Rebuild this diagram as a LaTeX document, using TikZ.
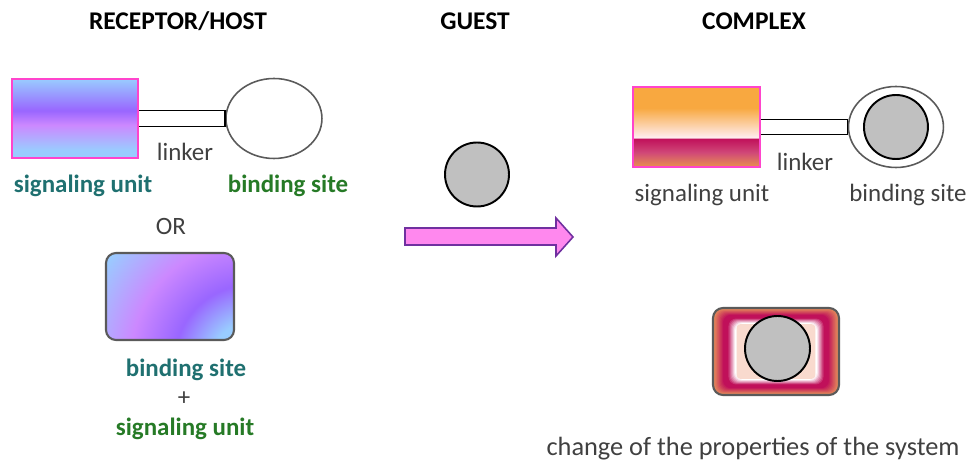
\documentclass[tikz,border=0pt]{standalone}
\usepackage{fontspec}
\setmainfont{Carlito}
\usetikzlibrary{positioning,calc,shapes.geometric}

\definecolor{hostpink}{HTML}{FF44CC}
\definecolor{skyblue}{HTML}{99CCFF}
\definecolor{violet}{HTML}{9966FF}
\definecolor{lavender}{HTML}{CC88FF}
\definecolor{cxorange}{HTML}{F8A840}
\definecolor{cxpale}{HTML}{FFEEF2}
\definecolor{cxmag}{HTML}{C0105A}
\definecolor{cxrose}{HTML}{D04878}
\definecolor{cxbottom}{HTML}{E8904E}
\definecolor{cxorg}{HTML}{E8955A}
\definecolor{cxpeach}{HTML}{F9DACE}
\definecolor{tealtext}{HTML}{1F7070}
\definecolor{greentext}{HTML}{267A26}
\definecolor{plaintext}{HTML}{404040}
\definecolor{guestgray}{HTML}{C0C0C0}
\definecolor{rimgray}{HTML}{5A5A5A}
\definecolor{arrowfill}{HTML}{FF88EE}
\definecolor{arrowline}{HTML}{7030A0}

% shadings: 25bp = bottom of the path, 75bp = top
\pgfdeclareverticalshading{signalhost}{100bp}{
  color(0bp)=(skyblue); color(30bp)=(skyblue); color(46bp)=(lavender);
  color(55bp)=(violet); color(75bp)=(skyblue); color(100bp)=(skyblue)}
\pgfdeclareverticalshading{signalcomplex}{100bp}{
  color(0bp)=(cxbottom); color(25bp)=(cxbottom); color(34bp)=(cxrose);
  color(42.8bp)=(cxmag); color(43.2bp)=(cxpale); color(62bp)=(cxorange);
  color(75bp)=(cxorange); color(100bp)=(cxorange)}
\pgfdeclareradialshading{bindhost}{\pgfpointorigin}{
  color(0bp)=(skyblue); color(5bp)=(skyblue); color(9.9bp)=(violet);
  color(15.7bp)=(lavender); color(23bp)=(skyblue); color(50bp)=(skyblue)}

\begin{document}
\begin{tikzpicture}[x=0.02cm,y=-0.02cm,
   title/.style={font=\fontsize{14.5pt}{17pt}\selectfont\bfseries,anchor=base},
   txt/.style={font=\fontsize{14.2pt}{17pt}\selectfont,text=plaintext,anchor=base,inner sep=0pt},
   tealtxt/.style={txt,font=\fontsize{14.2pt}{17pt}\selectfont\bfseries,text=tealtext},
   greentxt/.style={txt,font=\fontsize{14.2pt}{17pt}\selectfont\bfseries,text=greentext},
   sigbox/.style={draw=hostpink,line width=1.1pt,shade,minimum width=2.53cm,minimum height=1.59cm,inner sep=0pt},
   sitering/.style={ellipse,draw=rimgray,line width=0.9pt,inner sep=0pt},
   guestball/.style={circle,draw=black,line width=1.1pt,fill=guestgray,minimum size=1.28cm,inner sep=0pt},
   linkerbar/.style={draw=black,line width=0.9pt},
   roundbox/.style={draw=rimgray,line width=1.2pt,rounded corners=0.2cm,inner sep=0pt}]
  \useasboundingbox (0,0) rectangle (967,465);

  % titles
  \node[title] (tHost) at (178,30) {RECEPTOR/HOST};
  \node[title] (tGuest) at (475,30) {GUEST};
  \node[title] (tCplx) at (754,30) {COMPLEX};

  % receptor with linker
  \node[sigbox,shading=signalhost] (sigH) at (75,118.5) {};
  \node[sitering,minimum width=1.92cm,minimum height=1.6cm] (bsH) [right=1.72cm of sigH] {};
  \draw[linkerbar] ($(sigH.east)+(0,-8)$) -| ($(bsH.west)+(0,8)$) -- ($(sigH.east)+(0,8)$);
  \node[txt] (lnkH) at (185,161) {linker};
  \node[tealtxt] (suH) at (83,193) {signaling unit};
  \node[greentxt] (bsHtxt) at (288,193) {binding site};
  \node[txt] (or) at (171,235) {OR};

  % receptor in one piece
  \node[roundbox,minimum width=2.56cm,minimum height=1.74cm,
    path picture={\shade[shading=bindhost] ($(path picture bounding box.south east)+(16,20)$) circle[radius=3.8cm];}]
    (oneH) at (170,296.5) {};
  \node[tealtxt] (oneBs) at (186,377) {binding site};
  \node[txt] (plus) at (184,406) {+};
  \node[greentxt] (oneSu) at (185,436) {signaling unit};

  % guest and reaction arrow
  \node[guestball] (guest) at (477,174.5) {};
  \draw[draw=arrowline,fill=arrowfill,line width=0.9pt]
    (405,228) -- (556,228) -- (556,218) -- (573,237) -- (556,256) -- (556,245) -- (405,245) -- cycle;

  % complex with linker
  \node[sigbox,shading=signalcomplex] (sigC) at (696.5,127) {};
  \node[sitering,minimum width=1.9cm,minimum height=1.62cm] (bsC) [right=1.74cm of sigC] {};
  \draw[linkerbar] ($(sigC.east)+(0,-7.5)$) -| ($(bsC.west)+(0,7.5)$) -- ($(sigC.east)+(0,7.5)$);
  \node[guestball] (gC) at (bsC) {};
  \node[txt] (lnkC) at (805,171) {linker};
  \node[txt] (suC) at (702,202) {signaling unit};
  \node[txt] (bsCtxt) at (908,202) {binding site};

  % complex in one piece
  \node[roundbox,minimum width=2.52cm,minimum height=1.74cm,
    path picture={
      \foreach \k in {0,...,20}{
        \pgfmathtruncatemacro\p{min(100,\k*11)}
        \pgfmathtruncatemacro\q{max(0,min(100,(\k-13)*15))}
        \colorlet{cxband}{cxmag!\p!cxorg}
        \colorlet{cxband}{white!\q!cxband}
        \fill[cxband,rounded corners=0.16cm]
          ($(path picture bounding box.north west)+(1.1*\k,0.75*\k)$) rectangle
          ($(path picture bounding box.south east)-(1.1*\k,0.75*\k)$);
      }
      \fill[cxpeach,rounded corners=0.08cm]
        ($(path picture bounding box.north west)+(23.5,16)$) rectangle
        ($(path picture bounding box.south east)-(23.5,16)$);
    }] (oneC) at (776,351.5) {};
  \node[guestball,minimum size=1.3cm] (gOne) at (777.5,348.5) {};
  \node[txt,font=\fontsize{15pt}{18pt}\selectfont] (change) at (753,456) {change of the properties of the system};
\end{tikzpicture}
\end{document}
